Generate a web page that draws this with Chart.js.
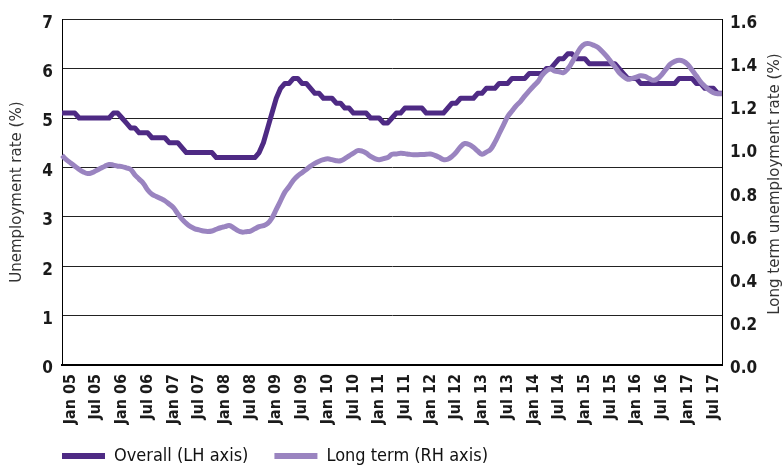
<!DOCTYPE html>
<html lang="en">
<head>
  <meta charset="UTF-8">
  <title>Unemployment rate</title>
  <script src="https://cdn.jsdelivr.net/npm/chart.js"></script>
  <style>
    body { margin: 0; background: #fff; }
    .chart-container { position: relative; width: 784px; height: 468px; }
  </style>
</head>
<body>
  <div class="chart-container">
    <canvas id="unemploymentChart"></canvas>
  </div>

  <script>
    // Monthly series, Nov 04 to Sep 17
    const monthNames = ['Jan', 'Feb', 'Mar', 'Apr', 'May', 'Jun', 'Jul', 'Aug', 'Sep', 'Oct', 'Nov', 'Dec'];
    const startYear = 2004;
    const startMonth = 10; // Nov
    const tickMonths = ['Jan', 'Jul'];

    // Overall unemployment rate (%), LH axis
    const overall = [
      5.1, 5.1,
      5.1, 5.1, 5.0, 5.0, 5.0, 5.0, 5.0, 5.0, 5.0, 5.0, 5.1, 5.1,
      5.0, 4.9, 4.8, 4.8, 4.7, 4.7, 4.7, 4.6, 4.6, 4.6, 4.6, 4.5,
      4.5, 4.5, 4.4, 4.3, 4.3, 4.3, 4.3, 4.3, 4.3, 4.3, 4.2, 4.2,
      4.2, 4.2, 4.2, 4.2, 4.2, 4.2, 4.2, 4.2, 4.3, 4.5, 4.8, 5.1,
      5.4, 5.6, 5.7, 5.7, 5.8, 5.8, 5.7, 5.7, 5.6, 5.5, 5.5, 5.4,
      5.4, 5.4, 5.3, 5.3, 5.2, 5.2, 5.1, 5.1, 5.1, 5.1, 5.0, 5.0,
      5.0, 4.9, 4.9, 5.0, 5.1, 5.1, 5.2, 5.2, 5.2, 5.2, 5.2, 5.1,
      5.1, 5.1, 5.1, 5.1, 5.2, 5.3, 5.3, 5.4, 5.4, 5.4, 5.4, 5.5,
      5.5, 5.6, 5.6, 5.6, 5.7, 5.7, 5.7, 5.8, 5.8, 5.8, 5.8, 5.9,
      5.9, 5.9, 5.9, 6.0, 6.0, 6.1, 6.2, 6.2, 6.3, 6.3, 6.2, 6.2,
      6.2, 6.1, 6.1, 6.1, 6.1, 6.1, 6.1, 6.1, 6.0, 5.9, 5.8, 5.8,
      5.8, 5.7, 5.7, 5.7, 5.7, 5.7, 5.7, 5.7, 5.7, 5.7, 5.8, 5.8,
      5.8, 5.8, 5.7, 5.7, 5.6, 5.6, 5.6, 5.5, 5.5
    ];

    // Long term unemployment rate (%), RH axis
    const longTerm = [
      0.97, 0.95,
      0.935, 0.92, 0.905, 0.893, 0.886, 0.89, 0.90, 0.91, 0.92, 0.928, 0.925, 0.92,
      0.918, 0.912, 0.905, 0.88, 0.86, 0.84, 0.81, 0.79, 0.78, 0.77, 0.76, 0.745,
      0.728, 0.70, 0.675, 0.655, 0.64, 0.63, 0.625, 0.62, 0.618, 0.62, 0.628, 0.635,
      0.64, 0.645, 0.635, 0.622, 0.615, 0.617, 0.62, 0.63, 0.64, 0.645, 0.655, 0.68,
      0.72, 0.76, 0.80, 0.826, 0.855, 0.875, 0.89, 0.905, 0.92, 0.933, 0.943, 0.95,
      0.954, 0.95, 0.945, 0.945, 0.955, 0.968, 0.98, 0.992, 0.99, 0.98, 0.965, 0.955,
      0.95, 0.955, 0.96, 0.975, 0.976, 0.98, 0.978, 0.975, 0.973, 0.973, 0.974, 0.975,
      0.976, 0.97, 0.961, 0.95, 0.952, 0.965, 0.985, 1.01, 1.025, 1.02, 1.007, 0.99,
      0.975, 0.985, 0.998, 1.03, 1.07, 1.11, 1.15, 1.175, 1.20, 1.22, 1.245, 1.268,
      1.29, 1.31, 1.34, 1.36, 1.37, 1.36, 1.357, 1.353, 1.37, 1.40, 1.435, 1.468,
      1.485, 1.487, 1.48, 1.47, 1.452, 1.43, 1.405, 1.38, 1.353, 1.335, 1.322, 1.326,
      1.332, 1.338, 1.335, 1.325, 1.317, 1.325, 1.345, 1.37, 1.393, 1.405, 1.41, 1.405,
      1.39, 1.365, 1.338, 1.31, 1.29, 1.272, 1.26, 1.255, 1.255
    ];

    const seriesNames = ['Overall (LH axis)', 'Long term (RH axis)'];
    const leftAxisTitle = 'Unemployment rate (%)';
    const rightAxisTitle = 'Long term unemployment rate (%)';

    const categories = [];
    for (let i = 0; i < overall.length; i++) {
      const m = (startMonth + i) % 12;
      const y = startYear + Math.floor((startMonth + i) / 12);
      categories.push(monthNames[m] + ' ' + String(y).slice(2));
    }

    const darkPurple = '#4e2a84';
    const lightPurple = '#9a84c0';
    const condensed = "'DejaVu Sans Condensed', 'DejaVu Sans', sans-serif";

    // legend sits under the plot, starting at the left axis
    const legendShift = {
      id: 'legendShift',
      afterLayout(chart) {
        const lg = chart.legend;
        lg.left += 36;
        lg.right += 36;
        lg.top -= 5;
        lg.bottom -= 5;
      }
    };

    // RH axis title reads bottom to top, like the LH one
    const rightTitle = {
      id: 'rightTitle',
      afterDraw(chart) {
        const s = chart.scales.y1;
        const ctx = chart.ctx;
        ctx.save();
        ctx.translate(s.right - 9, (s.top + s.bottom) / 2 - 8);
        ctx.rotate(-Math.PI / 2);
        ctx.font = "15px 'DejaVu Sans', sans-serif";
        ctx.fillStyle = '#333';
        ctx.textAlign = 'center';
        ctx.textBaseline = 'middle';
        ctx.fillText(rightAxisTitle, 0, 0);
        ctx.restore();
      }
    };

    const ctx = document.getElementById('unemploymentChart').getContext('2d');
    new Chart(ctx, {
      type: 'line',
      data: {
        labels: categories,
        datasets: [{
          label: seriesNames[0],
          data: overall,
          yAxisID: 'y',
          borderColor: darkPurple,
          backgroundColor: darkPurple,
          borderWidth: 5,
          pointRadius: 0,
          tension: 0,
          borderJoinStyle: 'round',
          order: 2
        }, {
          label: seriesNames[1],
          data: longTerm,
          yAxisID: 'y1',
          borderColor: lightPurple,
          backgroundColor: lightPurple,
          borderWidth: 5,
          pointRadius: 0,
          tension: 0.4,
          borderJoinStyle: 'round',
          order: 1
        }]
      },
      options: {
        responsive: true,
        maintainAspectRatio: false,
        animation: false,
        layout: { padding: { top: 12, left: 0, right: 0, bottom: -12 } },
        plugins: {
          tooltip: { enabled: false },
          legend: {
            position: 'bottom',
            align: 'start',
            labels: {
              boxWidth: 43,
              boxHeight: 6,
              padding: 26,
              color: '#111',
              font: { family: condensed, size: 18 },
              sort: (a, b) => a.datasetIndex - b.datasetIndex,
              generateLabels(chart) {
                const items = Chart.defaults.plugins.legend.labels.generateLabels(chart);
                items.forEach(it => {
                  it.lineWidth = 0;
                  it.fillStyle = it.strokeStyle;
                });
                return items;
              }
            }
          }
        },
        scales: {
          x: {
            type: 'category',
            offset: false,
            grid: { display: false, drawTicks: false },
            border: { display: true, color: '#000', width: 2 },
            ticks: {
              autoSkip: false,
              maxRotation: 90,
              minRotation: 90,
              padding: 9,
              color: '#1a1a1a',
              font: { family: condensed, size: 16, weight: 'bold' },
              callback(value) {
                const label = this.getLabelForValue(value);
                return tickMonths.includes(label.slice(0, 3)) ? label : null;
              }
            },
            afterFit(scale) { scale.height = 61; }
          },
          y: {
            position: 'left',
            min: 0,
            max: 7,
            grid: { color: '#222', lineWidth: 1, drawTicks: false },
            border: { display: true, color: '#000', width: 1 },
            ticks: {
              stepSize: 1,
              padding: 9,
              labelOffset: 4,
              color: '#1a1a1a',
              font: { family: condensed, size: 17, weight: 'bold' }
            },
            title: {
              display: true,
              text: leftAxisTitle,
              color: '#333',
              font: { family: "'DejaVu Sans', sans-serif", size: 15 },
              padding: { top: 8, bottom: 0 }
            },
            afterFit(scale) { scale.width = 62; }
          },
          y1: {
            position: 'right',
            min: 0,
            max: 1.6,
            grid: { display: false, drawTicks: false },
            border: { display: true, color: '#000', width: 1 },
            ticks: {
              stepSize: 0.2,
              padding: 8,
              labelOffset: 4,
              color: '#1a1a1a',
              font: { family: condensed, size: 17, weight: 'bold' },
              callback: v => v.toFixed(1)
            },
            afterFit(scale) { scale.width = 62; }
          }
        }
      },
      plugins: [legendShift, rightTitle]
    });
  </script>
</body>
</html>
